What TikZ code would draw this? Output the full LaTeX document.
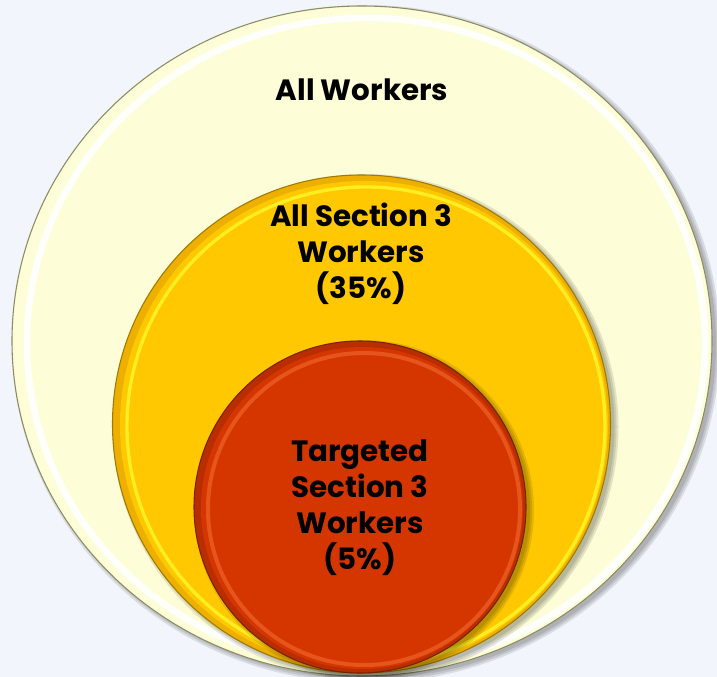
\documentclass[tikz,border=0pt]{standalone}
\usepackage{fontspec}
\setmainfont{Poppins}

\definecolor{pagebg}{HTML}{F2F6FC}
\definecolor{creamfill}{HTML}{FDFDD8}
\definecolor{creamedge}{HTML}{8C8C62}
\definecolor{goldfill}{HTML}{FFC800}
\definecolor{goldedge}{HTML}{EDB000}
\definecolor{goldline}{HTML}{A07A00}
\definecolor{goldlight}{HTML}{FFEE22}
\definecolor{redfill}{HTML}{D53600}
\definecolor{rededge}{HTML}{B82E00}
\definecolor{redline}{HTML}{7A2200}
\definecolor{redlight}{HTML}{F26A30}

\tikzset{
  discshadow/.style={fill=black, opacity=0.10},
  ringtext/.style={font=\bfseries\fontsize{22}{27}\selectfont, align=center, text=black, inner sep=0pt}
}

\begin{document}
\begin{tikzpicture}[x=0.75pt,y=-0.75pt]

    \fill[pagebg] (0,0) rectangle (717,677);
    \useasboundingbox (0,0) rectangle (717,677);

    % all workers
    \foreach \s in {0,2,4} \fill[discshadow] (366,344) ellipse [x radius=350+\s, y radius=335+\s];
    \filldraw[fill=creamfill, draw=creamedge, line width=0.8] (362,341) ellipse [x radius=350, y radius=335];
    \draw[white, line width=5, opacity=0.9] (366,343) ellipse [x radius=339, y radius=325];

    % section 3 workers
    \foreach \s in {0,2,4} \fill[discshadow] (365.5,427) circle (249+\s);
    \filldraw[fill=goldedge, draw=goldline, line width=0.8] (361.5,424) circle (249);
    \fill[goldfill] (364,425) circle (244);
    \draw[goldlight, line width=2.5] (366,426) circle (239);

    % targeted workers
    \foreach \s in {0,2,4} \fill[discshadow] (364,510) circle (166+\s);
    \filldraw[fill=rededge, draw=redline, line width=0.8] (360,507) circle (166);
    \fill[redfill] (362,508) circle (161);
    \draw[redlight, line width=3, opacity=0.6] (364,509) circle (156);

    \node[ringtext] (allw) at (362,90) {All Workers};
    \node[ringtext] (sect) at (361,254) {All Section 3\\Workers\\(35\%)};
    \node[ringtext] (targ) at (360,508) {Targeted\\Section 3\\Workers\\(5\%)};

\end{tikzpicture}
\end{document}
